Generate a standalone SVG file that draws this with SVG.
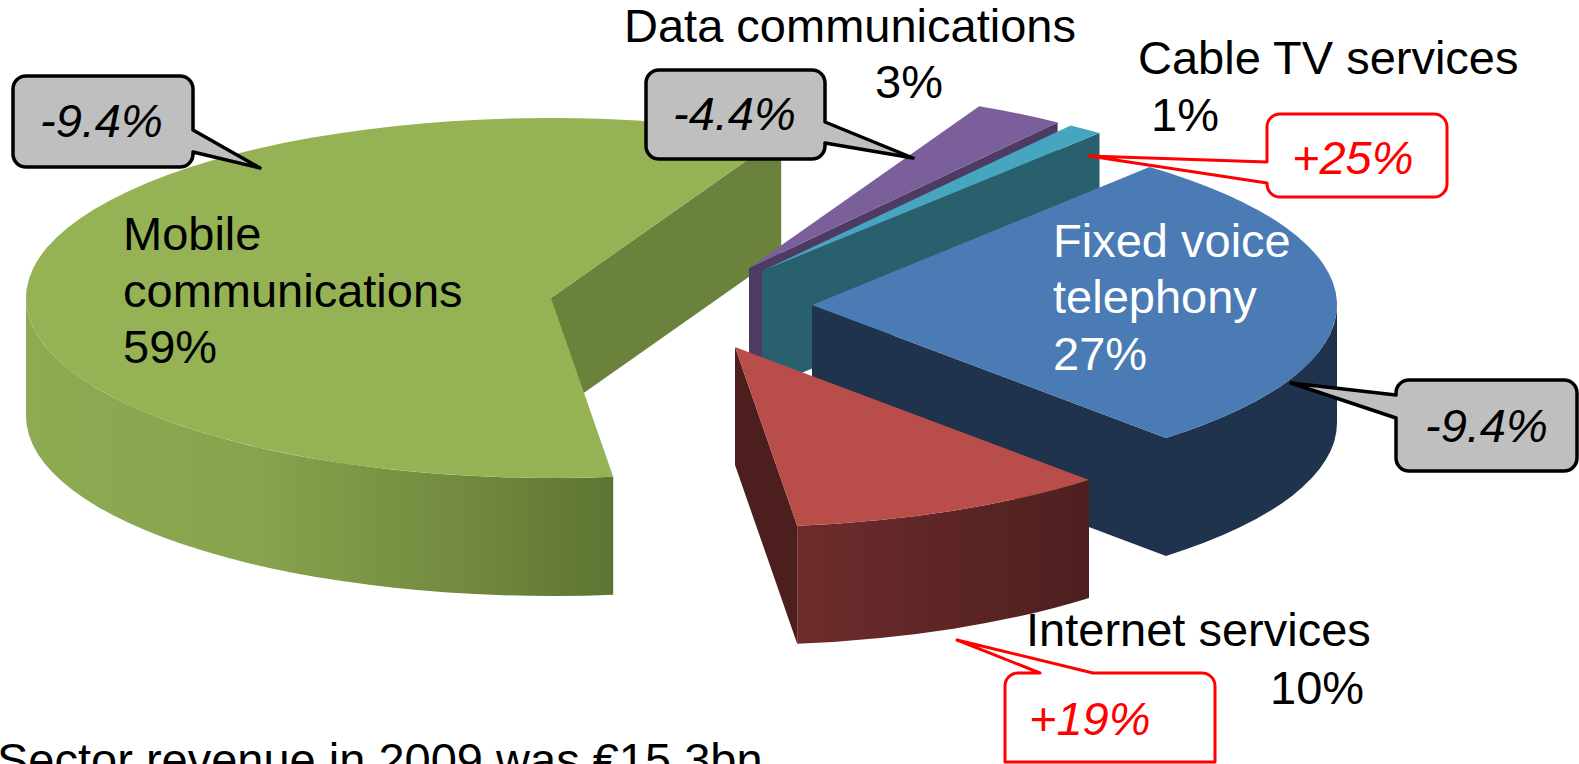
<svg xmlns="http://www.w3.org/2000/svg" width="1579" height="764" viewBox="0 0 1579 764">
<defs>
<style>
text{font-family:"Liberation Sans",Arial,sans-serif;font-size:47px}
.lbl{fill:#000}
.wht{fill:#fff}
.it{font-style:italic}
.red{fill:#ff0000}
.cg{fill:#bfbfbf;stroke:#000;stroke-width:3.5;stroke-linejoin:round}
.cr{fill:#fff;stroke:#ff0000;stroke-width:3;stroke-linejoin:round}
</style>
<linearGradient id="gw" gradientUnits="userSpaceOnUse" x1="26" y1="0" x2="614" y2="0">
<stop offset="0" stop-color="#8eab52"/><stop offset="0.4" stop-color="#87a34d"/><stop offset="0.75" stop-color="#72893e"/><stop offset="1" stop-color="#5e7433"/>
</linearGradient>
<linearGradient id="rw" gradientUnits="userSpaceOnUse" x1="797" y1="0" x2="1089" y2="0">
<stop offset="0" stop-color="#6e2c2c"/><stop offset="1" stop-color="#4e1f1f"/>
</linearGradient>
</defs>
<rect width="1579" height="764" fill="#fff"/>

<g id="slice-mobile">
<path d="M551 298 L781.2 136.2 L781.2 254.2 L551 416 Z" fill="#6a823c"/>
<path d="M613.2 476.7 A525 180 0 0 1 26 298 L26 416 A525 180 0 0 0 613.2 594.7 Z" fill="url(#gw)"/>
<path d="M551 298 L781.2 136.2 A525 180 0 1 0 613.2 476.7 Z" fill="#95b255"/>
</g>
<g id="slice-data">
<path d="M749 268 L1057.6 122.4 L1057.6 240.4 L749 386 Z" fill="#4d3b63"/>
<path d="M749 268 L979.2 106.2 A525 180 0 0 1 1057.6 122.4 Z" fill="#7b5f9a"/>
</g>
<g id="slice-cable">
<path d="M762 271 L1099.5 133.1 L1099.5 251.1 L762 389 Z" fill="#28606e"/>
<path d="M762 271 L1070.6 125.4 A525 180 0 0 1 1099.5 133.1 Z" fill="#47a6bf"/>
</g>
<g id="slice-fixed">
<path d="M812 305 L1166 437.9 L1166 555.9 L812 423 Z" fill="#1f334c"/>
<path d="M1337 305 A525 180 0 0 1 1166 437.9 L1166 555.9 A525 180 0 0 0 1337 423 Z" fill="#1f334c"/>
<path d="M812 305 L1149.5 167.1 A525 180 0 0 1 1166 437.9 Z" fill="#4a7bb4"/>
</g>
<g id="slice-internet">
<path d="M735 347 L797.2 525.7 L797.2 643.7 L735 465 Z" fill="#4d1e1e"/>
<path d="M1089 479.9 A525 180 0 0 1 797.2 525.7 L797.2 643.7 A525 180 0 0 0 1089 597.9 Z" fill="url(#rw)"/>
<path d="M735 347 L1089 479.9 A525 180 0 0 1 797.2 525.7 Z" fill="#b84d4a"/>
</g>

<g id="label-mobile">
<text class="lbl" x="123" y="250">Mobile</text>
<text class="lbl" x="123" y="307">communications</text>
<text class="lbl" x="123" y="363">59%</text>
</g>
<g id="label-data">
<text class="lbl" x="624" y="42">Data communications</text>
<text class="lbl" x="875" y="98">3%</text>
</g>
<g id="label-cable">
<text class="lbl" x="1138" y="74">Cable TV services</text>
<text class="lbl" x="1151" y="131">1%</text>
</g>
<g id="label-fixed">
<text class="wht" x="1053" y="257">Fixed voice</text>
<text class="wht" x="1053" y="313">telephony</text>
<text class="wht" x="1053" y="370">27%</text>
</g>
<g id="label-internet">
<text class="lbl" x="1026" y="646">Internet services</text>
<text class="lbl" x="1270" y="704">10%</text>
</g>

<g id="connectors">
<g id="callout-mobile">
<path class="cg" d="M26 76 H180 A13 13 0 0 1 193 89 V130 L260 168 L193 152 V154 A13 13 0 0 1 180 167 H26 A13 13 0 0 1 13 154 V89 A13 13 0 0 1 26 76 Z"/>
<text class="lbl it" x="40" y="137">-9.4%</text>
</g>
<g id="callout-data">
<path class="cg" d="M659 70 H812 A13 13 0 0 1 825 83 V122 L913 158 L825 143 V146 A13 13 0 0 1 812 159 H659 A13 13 0 0 1 646 146 V83 A13 13 0 0 1 659 70 Z"/>
<text class="lbl it" x="673" y="130">-4.4%</text>
</g>
<g id="callout-cable">
<path class="cr" d="M1280 114 H1434 A13 13 0 0 1 1447 127 V184 A13 13 0 0 1 1434 197 H1280 A13 13 0 0 1 1267 184 V183 L1089 156 L1267 162 V127 A13 13 0 0 1 1280 114 Z"/>
<text class="red it" x="1292" y="174">+25%</text>
</g>
<g id="callout-fixed">
<path class="cg" d="M1409 380 H1564 A13 13 0 0 1 1577 393 V458 A13 13 0 0 1 1564 471 H1409 A13 13 0 0 1 1396 458 V418 L1291 383 L1396 395 V393 A13 13 0 0 1 1409 380 Z"/>
<text class="lbl it" x="1425" y="442">-9.4%</text>
</g>
<g id="callout-internet">
<path class="cr" d="M1018 673 H1040 L957 640 L1093 673 H1202 A13 13 0 0 1 1215 686 V762 H1005 V686 A13 13 0 0 1 1018 673 Z"/>
<text class="red it" x="1029" y="735">+19%</text>
</g>
</g>

<g id="footnote">
<text class="lbl" x="-3" y="776">Sector revenue in 2009 was €15.3bn</text>
</g>
</svg>
